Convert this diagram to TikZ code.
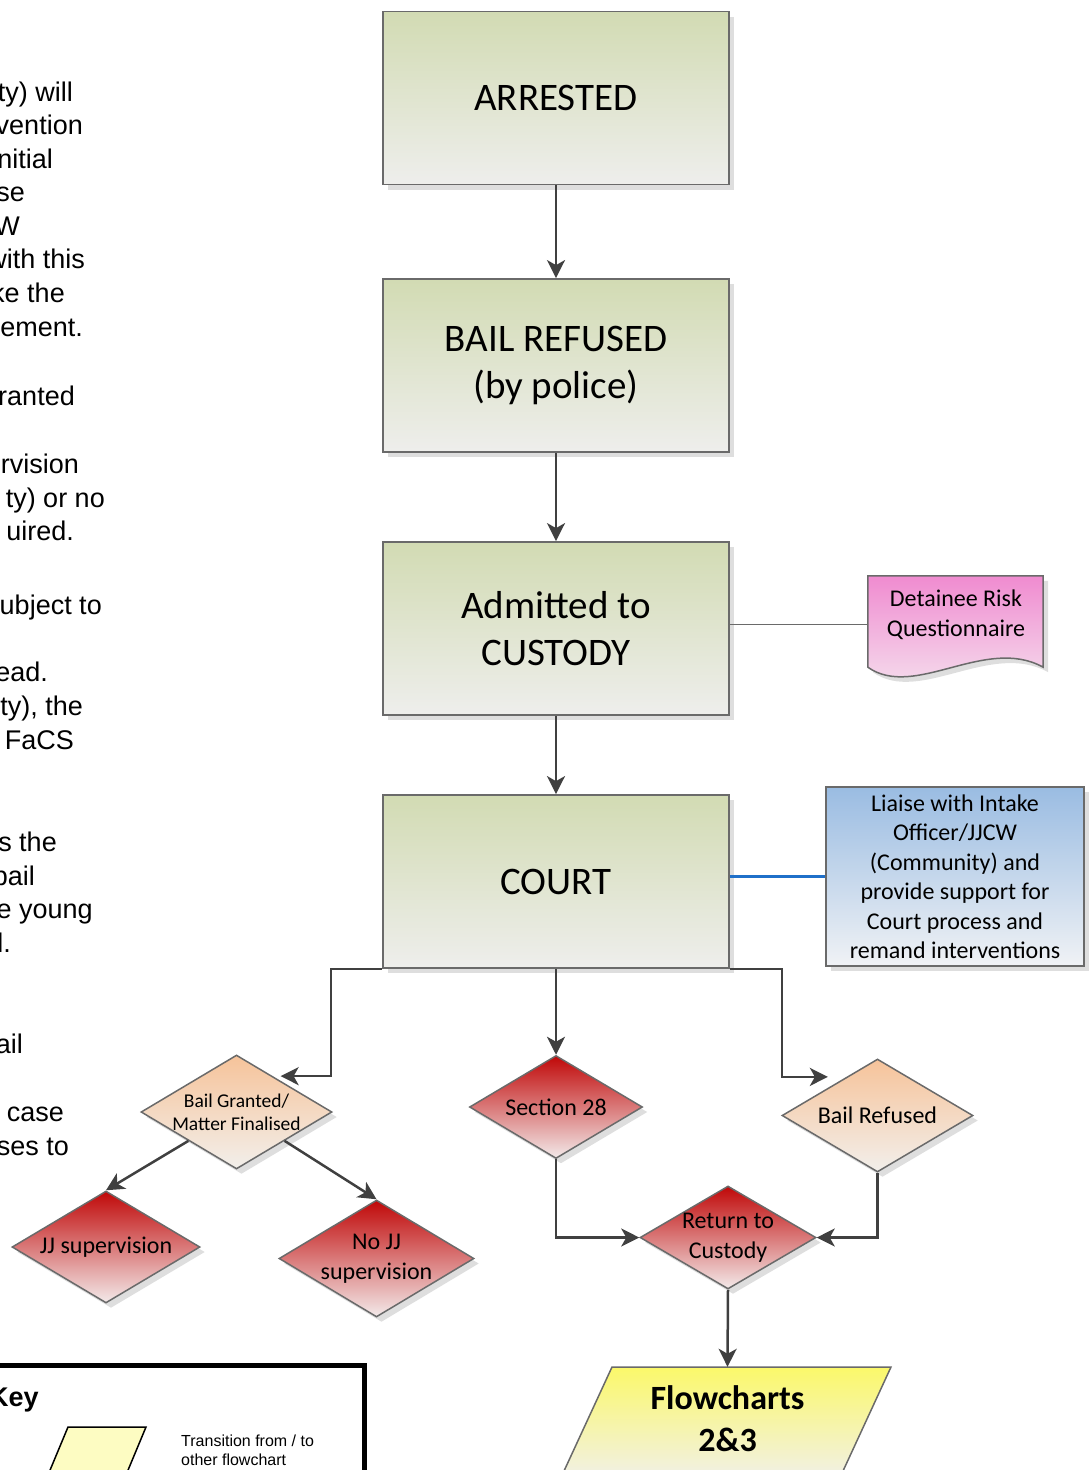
\documentclass[tikz,border=0pt]{standalone}
\usepackage{fontspec}
\setmainfont{Carlito}
\newfontfamily\arialfont{Liberation Sans}
\usetikzlibrary{arrows.meta,shapes.geometric,shadows,calc}

\definecolor{boxtop}{HTML}{D2DBB3}
\definecolor{boxbot}{HTML}{EEEEEC}
\definecolor{edgegrey}{HTML}{6A6A6A}
\definecolor{linegrey}{HTML}{404040}
\definecolor{redtop}{HTML}{C00808}
\definecolor{redbot}{HTML}{F3EAEA}
\definecolor{peachtop}{HTML}{F6C39A}
\definecolor{peachbot}{HTML}{F2EFEB}
\definecolor{pinktop}{HTML}{F08BD0}
\definecolor{pinkbot}{HTML}{F5E6F0}
\definecolor{bluetop}{HTML}{9ABCE2}
\definecolor{bluebot}{HTML}{F0F2F5}
\definecolor{yeltop}{HTML}{FBF86A}
\definecolor{yelbot}{HTML}{F2F1DE}
\definecolor{keyyel}{HTML}{FDFCC2}
\definecolor{bluelink}{HTML}{1F70C9}

\begin{document}
\begin{tikzpicture}[x=1pt,y=-1pt,
  softshadow/.style={drop shadow={shadow xshift=5pt,shadow yshift=-5pt,fill=black!13,opacity=1}},
  flowline/.style={draw=linegrey,line width=2.5pt,-{Stealth[length=18pt,width=18pt,inset=5pt]}},
  mainbox/.style={rectangle,draw=edgegrey,line width=1.8pt,top color=boxtop,bottom color=boxbot,
    minimum width=346pt,minimum height=173pt,inner sep=0pt,align=center,
    font=\fontsize{39}{47}\selectfont,softshadow},
  dia/.style={diamond,draw=edgegrey,line width=1.5pt,inner sep=0pt,softshadow},
  reddia/.style={dia,top color=redtop,bottom color=redbot},
  peachdia/.style={dia,top color=peachtop,bottom color=peachbot},
  dtext/.style={font=\fontsize{24}{30}\selectfont,align=center,inner sep=0pt},
  sidetext/.style={anchor=base east,font=\arialfont\fontsize{27}{34}\selectfont,inner sep=0pt},
]
\useasboundingbox (0,0) rectangle (1092,1470);
\clip (0,0) rectangle (1092,1470);

% running text at the left margin
\node[sidetext] (s1) at (73,101) {ty) will};
\node[sidetext] (s2) at (83,134) {vention};
\node[sidetext] (s3) at (53,168) {nitial};
\node[sidetext] (s4) at (25,201) {se};
\node[sidetext] (s5) at (20,235) {W};
\node[sidetext] (s6) at (85,268) {with this};
\node[sidetext] (s7) at (65,302) {ke the};
\node[sidetext] (s8) at (83,336) {ement.};
\node[sidetext] (s9) at (75,405) {ranted};
\node[sidetext] (s10) at (79,473) {rvision};
\node[sidetext] (s11) at (105,507) {ty) or no};
\node[sidetext] (s12) at (74,540) {uired.};
\node[sidetext] (s13) at (102,614) {ubject to};
\node[sidetext] (s14) at (48,681) {ead.};
\node[sidetext] (s15) at (83,715) {ty), the};
\node[sidetext] (s16) at (74,749) {FaCS};
\node[sidetext] (s17) at (57,851) {s the};
\node[sidetext] (s18) at (35,885) {bail};
\node[sidetext] (s19) at (93,918) {e young};
\node[sidetext] (s20) at (11,952) {l.};
\node[sidetext] (s21) at (23,1053) {ail};
\node[sidetext] (s22) at (64,1121) {case};
\node[sidetext] (s23) at (69,1155) {ses to};

% main process boxes
\node[mainbox] (arr) at (556,98) {ARRESTED};
\node[mainbox] (bail) at (556,365.5) {BAIL REFUSED\\(by police)};
\node[mainbox] (adm) at (556,628.5) {Admitted to\\CUSTODY};
\node[mainbox] (court) at (556,881.5) {COURT};

% questionnaire document
\node[minimum width=175pt,minimum height=91pt,inner sep=0pt] (doc) at (955.5,621.5) {};
\path[draw=edgegrey,line width=1.5pt,top color=pinktop,bottom color=pinkbot,softshadow]
  (doc.north west) -- (doc.north east) -- (doc.south east)
  .. controls ($(doc.south east)+(-58,-32)$) and ($(doc.south west)+(47,33)$) .. (doc.south west) -- cycle;
\node[dtext] (doct) at (956,615) {Detainee Risk\\Questionnaire};

% liaison note
\node[rectangle,draw=edgegrey,line width=1.5pt,top color=bluetop,bottom color=bluebot,softshadow,
  minimum width=258pt,minimum height=179pt,inner sep=0pt,align=center,
  font=\fontsize{24}{29.5}\selectfont] (liaise) at (955,876.5)
  {Liaise with Intake\\Officer/JJCW\\(Community) and\\provide support for\\Court process and\\remand interventions};

% decision diamonds
\node[peachdia,minimum width=191pt,minimum height=114pt,
  label={[dtext,font=\fontsize{19.5}{23}\selectfont]center:{Bail Granted/\\Matter Finalised}}] (bg) at (236.5,1112) {};
\node[reddia,minimum width=188pt,minimum height=112pt,
  label={[dtext]center:{JJ supervision}}] (jj) at (106,1247) {};
\node[reddia,minimum width=195pt,minimum height=117pt,
  label={[dtext]center:{No JJ\\supervision}}] (nojj) at (376.5,1258.5) {};
\node[reddia,minimum width=173pt,minimum height=103pt,
  label={[dtext]center:{Section 28}}] (s28) at (556,1107) {};
\node[peachdia,minimum width=191pt,minimum height=113pt,
  label={[dtext]center:{Bail Refused}}] (br) at (877.5,1115.5) {};
\node[reddia,minimum width=176pt,minimum height=103pt,
  label={[dtext]center:{Return to\\Custody}}] (ret) at (728,1237.5) {};

% transition to the next flowcharts
\path[draw=edgegrey,line width=1.5pt,top color=yeltop,bottom color=yelbot]
  (612,1367) -- (891,1367) -- (843,1471) -- (564,1471) -- cycle;
\node[minimum height=104pt,minimum width=200pt,inner sep=0pt,align=center,
  font=\bfseries\fontsize{34}{42}\selectfont] (fc) at (727.5,1419) {Flowcharts\\2\&3};

% key
\draw[line width=5pt] (-20,1365.5) rectangle (364.5,1520);
\node[anchor=base west,inner sep=0pt,font=\arialfont\bfseries\fontsize{27}{30}\selectfont] (keyttl) at (-11,1406) {Key};
\draw[draw=black,line width=1.5pt,fill=keyyel] (68,1427) -- (146,1427) -- (126,1475) -- (48,1475) -- cycle;
\node[anchor=west,inner sep=0pt,align=left,font=\arialfont\fontsize{16}{19}\selectfont] (keytxt) at (181,1450)
  {Transition from / to\\other flowchart};

% connectors
\draw[flowline] (arr.south) -- (bail.north);
\draw[flowline] (bail.south) -- (adm.north);
\draw[flowline] (adm.south) -- (court.north);
\draw[draw=edgegrey,line width=1.5pt] (adm.east |- doc.west) ++(0,3) -- ($(doc.west)+(0,3)$);
\draw[draw=bluelink,line width=3pt] (court.east |- liaise.west) -- (liaise.west);
\draw[flowline] (court.south west) -- ++(-51,0) |- ($(bg.north east)+(-4,-7)$);
\draw[flowline] (court.south east) -- ++(52,0) |- ($(br.north west)+(-1.5,-10)$);
\draw[flowline] (court.south) -- (s28.north);
\draw[flowline] (bg.south west) -- (jj.north);
\draw[flowline] (bg.south east) -- (nojj.north);
\draw[flowline] (s28.south) |- (ret.west);
\draw[flowline] (br.south) |- (ret.east);
\draw[flowline] (ret.south) -- (fc.north);
\end{tikzpicture}
\end{document}
